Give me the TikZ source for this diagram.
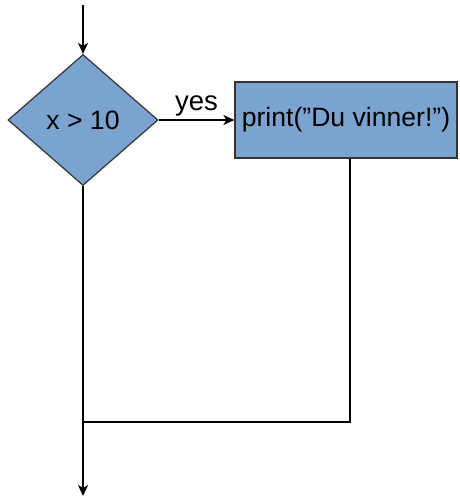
\documentclass[tikz,border=0pt]{standalone}
\usepackage{fontspec}
\setmainfont{Liberation Sans}
\usetikzlibrary{shapes.geometric,arrows.meta}
\definecolor{boxblue}{HTML}{7BA3D0}
\definecolor{edge}{HTML}{333333}
\begin{document}
\begin{tikzpicture}[x=1pt,y=-1pt,
  every node/.style={font=\fontsize{26.6}{30}\selectfont},
  decision/.style={diamond,draw=edge,fill=boxblue,line width=1.2pt,minimum width=150pt,minimum height=131pt,inner sep=0pt,aspect=1.145},
  process/.style={rectangle,draw=edge,fill=boxblue,line width=1.2pt,minimum width=222pt,minimum height=76pt,inner sep=0pt},
  flow/.style={line width=1.6pt,-{Stealth[length=11pt,width=10pt,inset=3pt]}},
  plain/.style={line width=1.6pt}]
\useasboundingbox (0,0) rectangle (459,498);
\coordinate (start) at (83,5);
\node[decision] (d) at (83,120) {x > 10};
\node[process] (r) at (346,120) {print(”Du vinner!”)};
\coordinate (j) at (83,422);
\coordinate (end) at (83,496);
\draw[flow] (start) -- (d.north);
\draw[flow] (d.east) -- node[above=0pt,font=\fontsize{27.5}{30}\selectfont] (yes) {yes} (r.west);
\draw[plain] ([xshift=4pt]r.south) |- (j);
\draw[flow] (d.south) -- (end);
\end{tikzpicture}
\end{document}
